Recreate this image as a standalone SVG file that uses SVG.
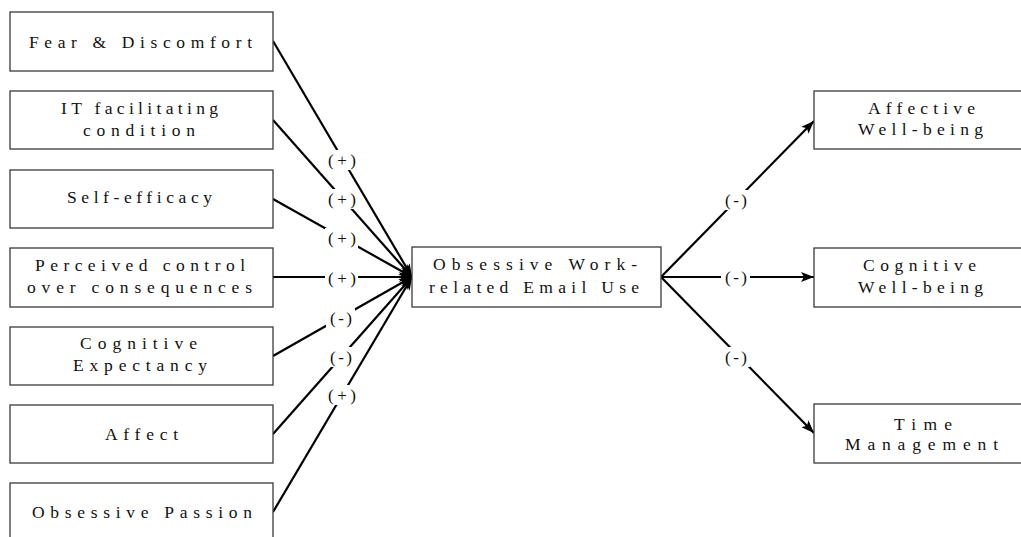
<svg xmlns="http://www.w3.org/2000/svg" width="1021" height="537" viewBox="0 0 1021 537">
<style>
.box{fill:#fff;stroke:#3a3a3a;stroke-width:1.3}
.t{font-family:"Liberation Serif","DejaVu Serif",serif;font-size:17.5px;fill:#111}
.e{stroke:#000;stroke-width:2.2;fill:none}
.lb{font-family:"Liberation Serif","DejaVu Serif",serif;font-size:17px;fill:#111}
.bg{fill:#fff}
</style>
<defs>
<marker id="ah" markerUnits="userSpaceOnUse" markerWidth="14" markerHeight="10" refX="13" refY="5" orient="auto">
<path d="M0,0 L13,5 L0,10 L3,5 z" fill="#000"/>
</marker>
</defs>
<rect width="1021" height="537" fill="#fff"/>
<g id="connectors">
<line class="e" x1="273" y1="41" x2="412" y2="277" marker-end="url(#ah)"/>
<line class="e" x1="273" y1="120" x2="412" y2="277" marker-end="url(#ah)"/>
<line class="e" x1="273" y1="199" x2="412" y2="277" marker-end="url(#ah)"/>
<line class="e" x1="273" y1="277" x2="412" y2="277" marker-end="url(#ah)"/>
<line class="e" x1="273" y1="356" x2="412" y2="277" marker-end="url(#ah)"/>
<line class="e" x1="273" y1="434" x2="412" y2="277" marker-end="url(#ah)"/>
<line class="e" x1="273" y1="512" x2="412" y2="277" marker-end="url(#ah)"/>
<line class="e" x1="661" y1="277" x2="814" y2="121" marker-end="url(#ah)"/>
<line class="e" x1="661" y1="277" x2="814" y2="277" marker-end="url(#ah)"/>
<line class="e" x1="661" y1="277" x2="814" y2="433" marker-end="url(#ah)"/>
</g>
<g id="labels">
<rect class="bg" x="325" y="150" width="33" height="20"/>
<text class="lb" x="328" y="166" textLength="28" lengthAdjust="spacing">(+)</text>
<rect class="bg" x="325" y="189" width="33" height="20"/>
<text class="lb" x="328" y="205" textLength="28" lengthAdjust="spacing">(+)</text>
<rect class="bg" x="325" y="228" width="33" height="20"/>
<text class="lb" x="328" y="244" textLength="28" lengthAdjust="spacing">(+)</text>
<rect class="bg" x="325" y="268" width="33" height="20"/>
<text class="lb" x="328" y="284" textLength="28" lengthAdjust="spacing">(+)</text>
<rect class="bg" x="326" y="308" width="29" height="20"/>
<text class="lb" x="330" y="324" textLength="22" lengthAdjust="spacing">(-)</text>
<rect class="bg" x="326" y="347" width="29" height="20"/>
<text class="lb" x="330" y="363" textLength="22" lengthAdjust="spacing">(-)</text>
<rect class="bg" x="325" y="385" width="33" height="20"/>
<text class="lb" x="328" y="401" textLength="28" lengthAdjust="spacing">(+)</text>
<rect class="bg" x="721" y="190" width="29" height="20"/>
<text class="lb" x="725" y="206" textLength="22" lengthAdjust="spacing">(-)</text>
<rect class="bg" x="721" y="267" width="29" height="20"/>
<text class="lb" x="725" y="283" textLength="22" lengthAdjust="spacing">(-)</text>
<rect class="bg" x="721" y="347" width="29" height="20"/>
<text class="lb" x="725" y="363" textLength="22" lengthAdjust="spacing">(-)</text>
</g>
<g id="n-fear"><rect class="box" x="10" y="12" width="263" height="59"/>
<text class="t" x="29" y="48" textLength="223" lengthAdjust="spacing">Fear &amp; Discomfort</text></g>
<g id="n-it"><rect class="box" x="10" y="91" width="263" height="58"/>
<text class="t" x="61" y="114" textLength="157" lengthAdjust="spacing">IT facilitating</text>
<text class="t" x="83" y="136" textLength="112" lengthAdjust="spacing">condition</text></g>
<g id="n-self"><rect class="box" x="10" y="170" width="263" height="58"/>
<text class="t" x="67" y="203" textLength="145" lengthAdjust="spacing">Self-efficacy</text></g>
<g id="n-perceived"><rect class="box" x="10" y="248" width="263" height="59"/>
<text class="t" x="35" y="271" textLength="210" lengthAdjust="spacing">Perceived control</text>
<text class="t" x="27" y="293" textLength="225" lengthAdjust="spacing">over consequences</text></g>
<g id="n-cognitive"><rect class="box" x="10" y="327" width="263" height="58"/>
<text class="t" x="80" y="349" textLength="117" lengthAdjust="spacing">Cognitive</text>
<text class="t" x="73" y="371" textLength="134" lengthAdjust="spacing">Expectancy</text></g>
<g id="n-affect"><rect class="box" x="10" y="405" width="263" height="58"/>
<text class="t" x="105" y="440" textLength="73" lengthAdjust="spacing">Affect</text></g>
<g id="n-passion"><rect class="box" x="10" y="483" width="263" height="70"/>
<text class="t" x="32" y="518" textLength="220" lengthAdjust="spacing">Obsessive Passion</text></g>
<g id="n-center"><rect class="box" x="412" y="247" width="249" height="60"/>
<text class="t" x="433" y="270" textLength="204" lengthAdjust="spacing">Obsessive Work-</text>
<text class="t" x="429" y="293" textLength="210" lengthAdjust="spacing">related Email Use</text></g>
<g id="n-affective"><rect class="box" x="814" y="91" width="220" height="58"/>
<text class="t" x="868" y="114" textLength="107" lengthAdjust="spacing">Affective</text>
<text class="t" x="858" y="135" textLength="125" lengthAdjust="spacing">Well-being</text></g>
<g id="n-cogwell"><rect class="box" x="814" y="248" width="220" height="59"/>
<text class="t" x="863" y="271" textLength="113" lengthAdjust="spacing">Cognitive</text>
<text class="t" x="858" y="293" textLength="125" lengthAdjust="spacing">Well-being</text></g>
<g id="n-time"><rect class="box" x="814" y="404" width="220" height="59"/>
<text class="t" x="894" y="430" textLength="58" lengthAdjust="spacing">Time</text>
<text class="t" x="845" y="450" textLength="153" lengthAdjust="spacing">Management</text></g>
</svg>
